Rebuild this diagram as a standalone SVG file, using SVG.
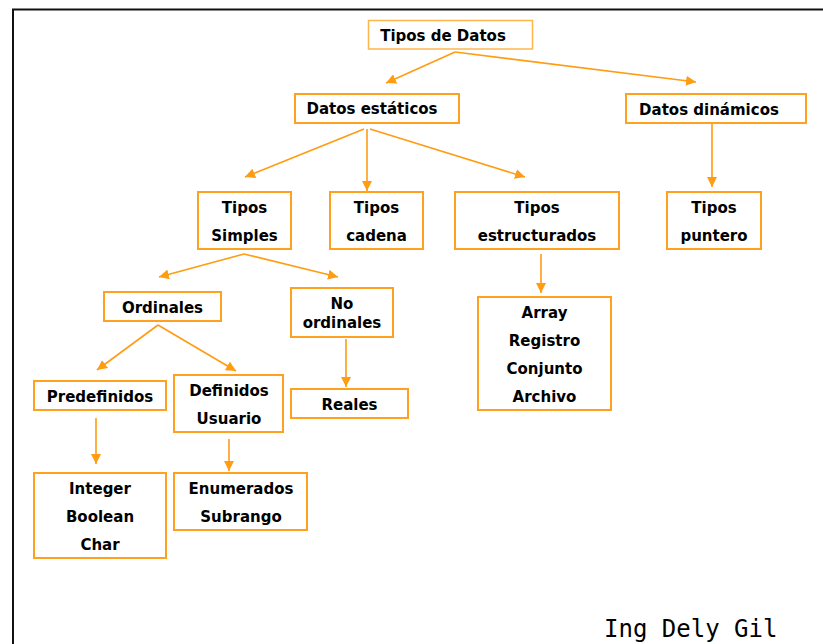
<svg xmlns="http://www.w3.org/2000/svg" width="823" height="644" viewBox="0 0 823 644">
<style>
.box{fill:#fff;stroke:#FFA01E;stroke-width:2}
.lbl{font-family:"DejaVu Sans","Verdana",sans-serif;font-weight:bold;font-size:15px;fill:#000;text-anchor:middle}
.con{stroke:#FF9C12;stroke-width:1.6;fill:none;marker-end:url(#ah)}
</style>
<defs>
<marker id="ah" markerWidth="10" markerHeight="10" viewBox="0 0 10 10" refX="10" refY="5" orient="auto" markerUnits="userSpaceOnUse">
<path d="M0,0 L10,5 L0,10 Z" fill="#FF9C12"/>
</marker>
</defs>
<rect width="823" height="644" fill="#fff"/>
<path d="M13,660 L13,9.5 L830,9.5" fill="none" stroke="#111" stroke-width="2"/>

<g id="connectors">
<line class="con" x1="455" y1="52" x2="386" y2="83"/>
<line class="con" x1="455" y1="52" x2="696" y2="82"/>
<line class="con" x1="364" y1="129" x2="245" y2="177"/>
<line class="con" x1="367" y1="129" x2="367" y2="191"/>
<line class="con" x1="370" y1="129" x2="525" y2="177"/>
<line class="con" x1="712" y1="124" x2="712" y2="187"/>
<line class="con" x1="244" y1="254" x2="159" y2="277"/>
<line class="con" x1="244" y1="254" x2="338" y2="277"/>
<line class="con" x1="158" y1="325" x2="97" y2="370"/>
<line class="con" x1="158" y1="325" x2="236" y2="371"/>
<line class="con" x1="96" y1="418" x2="96" y2="464"/>
<line class="con" x1="229" y1="439" x2="229" y2="471"/>
<line class="con" x1="346" y1="339" x2="346" y2="387"/>
<line class="con" x1="541" y1="254" x2="541" y2="293"/>
</g>

<g id="tipos-de-datos">
<rect class="box" x="368.5" y="20.5" width="164" height="28.5" style="stroke:#FFB54D;stroke-width:1.5"/>
<text class="lbl" x="443" y="40.5">Tipos de Datos</text>
</g>
<g id="datos-estaticos">
<rect class="box" x="295" y="94" width="164" height="29"/>
<text class="lbl" x="372" y="114">Datos estáticos</text>
</g>
<g id="datos-dinamicos">
<rect class="box" x="626" y="94" width="180" height="29"/>
<text class="lbl" x="709" y="114.5">Datos dinámicos</text>
</g>
<g id="tipos-simples">
<rect class="box" x="198" y="192" width="93" height="57"/>
<text class="lbl" x="244.5" y="213">Tipos</text>
<text class="lbl" x="244.5" y="241">Simples</text>
</g>
<g id="tipos-cadena">
<rect class="box" x="330" y="192" width="93" height="57"/>
<text class="lbl" x="376.5" y="213">Tipos</text>
<text class="lbl" x="376.5" y="241">cadena</text>
</g>
<g id="tipos-estructurados">
<rect class="box" x="455" y="192" width="164" height="57"/>
<text class="lbl" x="537" y="213">Tipos</text>
<text class="lbl" x="537" y="241">estructurados</text>
</g>
<g id="tipos-puntero">
<rect class="box" x="667" y="192" width="94" height="57"/>
<text class="lbl" x="714" y="213">Tipos</text>
<text class="lbl" x="714" y="241">puntero</text>
</g>
<g id="ordinales">
<rect class="box" x="104" y="292" width="117" height="29"/>
<text class="lbl" x="162.5" y="313">Ordinales</text>
</g>
<g id="no-ordinales">
<rect class="box" x="291" y="288" width="102" height="49"/>
<text class="lbl" x="342" y="309">No</text>
<text class="lbl" x="342" y="328">ordinales</text>
</g>
<g id="predefinidos">
<rect class="box" x="34" y="381" width="132" height="29"/>
<text class="lbl" x="100" y="402">Predefinidos</text>
</g>
<g id="definidos-usuario">
<rect class="box" x="174" y="375" width="109" height="57"/>
<text class="lbl" x="229" y="396">Definidos</text>
<text class="lbl" x="229" y="424">Usuario</text>
</g>
<g id="reales">
<rect class="box" x="291" y="389" width="117" height="29"/>
<text class="lbl" x="349.5" y="410">Reales</text>
</g>
<g id="integer-boolean-char">
<rect class="box" x="34" y="473" width="132" height="85"/>
<text class="lbl" x="100" y="494">Integer</text>
<text class="lbl" x="100" y="522">Boolean</text>
<text class="lbl" x="100" y="550">Char</text>
</g>
<g id="enumerados-subrango">
<rect class="box" x="174" y="473" width="133" height="57"/>
<text class="lbl" x="241" y="494">Enumerados</text>
<text class="lbl" x="241" y="522">Subrango</text>
</g>
<g id="array-registro">
<rect class="box" x="478" y="297" width="133" height="113"/>
<text class="lbl" x="544.5" y="318">Array</text>
<text class="lbl" x="544.5" y="346">Registro</text>
<text class="lbl" x="544.5" y="374">Conjunto</text>
<text class="lbl" x="544.5" y="402">Archivo</text>
</g>
<text x="604" y="637" font-family="DejaVu Sans Mono, monospace" font-size="24" fill="#000">Ing Dely Gil</text>
</svg>
